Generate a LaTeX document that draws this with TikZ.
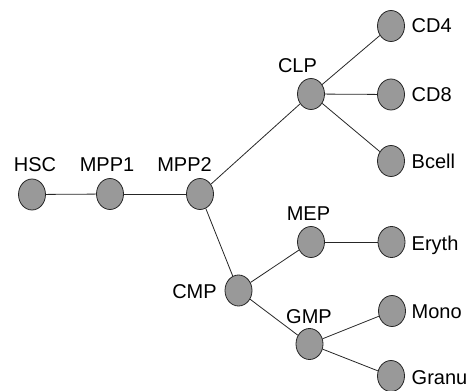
\documentclass[tikz,border=0pt]{standalone}
\usepackage{fontspec}
\setmainfont{Liberation Sans}
\usetikzlibrary{shapes.geometric}
\begin{document}
\begin{tikzpicture}[x=1pt,y=-1pt,
  cell/.style={ellipse,draw=black!85,line width=0.8pt,fill=black!40,minimum width=27pt,minimum height=31pt,inner sep=0pt},
  lab/.style={inner sep=0pt,font=\fontsize{20}{24}\selectfont},
  link/.style={draw=black!85,line width=0.8pt}]
\useasboundingbox (0,0) rectangle (470,390);
\node[cell] (HSC) at (32,194.5) {};
\node[cell] (MPP1) at (110,194) {};
\node[cell] (MPP2) at (200,194) {};
\node[cell] (CLP) at (311,94) {};
\node[cell] (CD4) at (391,26) {};
\node[cell] (CD8) at (391,94.5) {};
\node[cell] (Bcell) at (391,161) {};
\node[cell] (CMP) at (238.5,290.5) {};
\node[cell] (MEP) at (311,242) {};
\node[cell] (Eryth) at (391.5,242) {};
\node[cell] (GMP) at (309.5,344) {};
\node[cell] (Mono) at (392,311) {};
\node[cell] (Granu) at (391,376) {};
\draw[link] (HSC) -- (MPP1);
\draw[link] (MPP1) -- (MPP2);
\draw[link] (MPP2) -- (CLP);
\draw[link] (MPP2) -- (CMP);
\draw[link] (CLP) -- (CD4);
\draw[link] (CLP) -- (CD8);
\draw[link] (CLP) -- (Bcell);
\draw[link] (CMP) -- (MEP);
\draw[link] (CMP) -- (GMP);
\draw[link] (MEP) -- (Eryth);
\draw[link] (GMP) -- (Mono);
\draw[link] (GMP) -- (Granu);
\node[lab,anchor=base] (tHSC) at (35,171) {HSC};
\node[lab,anchor=base] (tMPP1) at (107,171) {MPP1};
\node[lab,anchor=base] (tMPP2) at (184.5,171) {MPP2};
\node[lab,anchor=base] (tCLP) at (297.5,73) {CLP};
\node[lab,anchor=base] (tMEP) at (308.5,220) {MEP};
\node[lab,anchor=base] (tCMP) at (194.5,298) {CMP};
\node[lab,anchor=base] (tGMP) at (309,323) {GMP};
\node[lab,anchor=base west] (tCD4) at (411.5,33) {CD4};
\node[lab,anchor=base west] (tCD8) at (411.5,102) {CD8};
\node[lab,anchor=base west] (tBcell) at (411.5,168) {Bcell};
\node[lab,anchor=base west] (tEryth) at (411.5,250) {Eryth};
\node[lab,anchor=base west] (tMono) at (411.5,318) {Mono};
\node[lab,anchor=base west] (tGranu) at (411.5,384) {Granu};
\end{tikzpicture}
\end{document}
